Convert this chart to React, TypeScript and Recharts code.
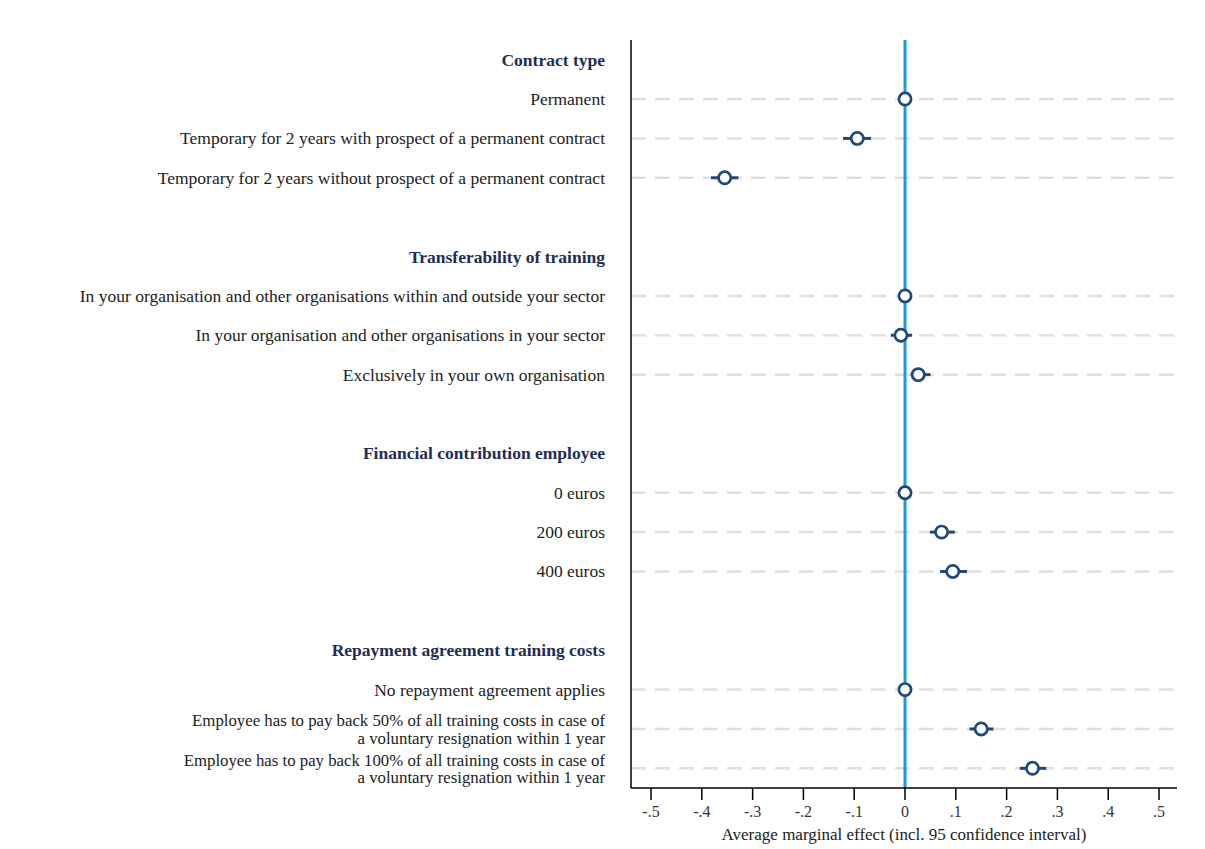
import { ScatterChart, Scatter, XAxis, YAxis, ErrorBar, ReferenceLine } from 'recharts'

const groups = [
  'Contract type',
  'Transferability of training',
  'Financial contribution employee',
  'Repayment agreement training costs',
]

const levels = [
  ['Permanent', 'Temporary for 2 years with prospect of a permanent contract', 'Temporary for 2 years without prospect of a permanent contract'],
  ['In your organisation and other organisations within and outside your sector', 'In your organisation and other organisations in your sector', 'Exclusively in your own organisation'],
  ['0 euros', '200 euros', '400 euros'],
  [
    'No repayment agreement applies',
    'Employee has to pay back 50% of all training costs in case of|a voluntary resignation within 1 year',
    'Employee has to pay back 100% of all training costs in case of|a voluntary resignation within 1 year',
  ],
]

const estimates = [
  [0, -0.094, -0.355],
  [0, -0.008, 0.026],
  [0, 0.072, 0.094],
  [0, 0.15, 0.251],
]
const lower = [
  [0, -0.122, -0.382],
  [0, -0.028, 0.011],
  [0, 0.049, 0.069],
  [0, 0.127, 0.226],
]
const upper = [
  [0, -0.067, -0.328],
  [0, 0.014, 0.05],
  [0, 0.098, 0.122],
  [0, 0.174, 0.278],
]

const xTicks = [-0.5, -0.4, -0.3, -0.2, -0.1, 0, 0.1, 0.2, 0.3, 0.4, 0.5]

interface Row {
  row: number
  label: string
  header: boolean
}

const rows: Row[] = []
const points: { row: number; x: number; err: [number, number] }[] = []
groups.forEach((g, gi) => {
  if (gi > 0) rows.push({ row: rows.length, label: '', header: false })
  rows.push({ row: rows.length, label: g, header: true })
  levels[gi].forEach((l, li) => {
    const r = rows.length
    rows.push({ row: r, label: l, header: false })
    const est = estimates[gi][li]
    points.push({ row: r, x: est, err: [est - lower[gi][li], upper[gi][li] - est] })
  })
})

const itemRows = points.map((p) => p.row)

const FONT = '"Liberation Serif", "Times New Roman", serif'
const NAVY = '#1d4a78'

function YTick(props: any) {
  const { x, y, payload } = props
  const r = rows[payload.value]
  if (!r || !r.label) return null
  const lines = r.label.split('|')
  const multi = lines.length > 1
  const lh = 17.5
  const start = y - ((lines.length - 1) * lh) / 2
  return (
    <text
      x={x}
      y={start}
      textAnchor="end"
      dominantBaseline="central"
      fontFamily={FONT}
      fontSize={multi ? 16.8 : 17.5}
      fontWeight={r.header ? 700 : 400}
      fill={r.header ? '#1f2d56' : '#222'}
    >
      {lines.map((ln, i) => (
        <tspan key={i} x={x} dy={i === 0 ? 0 : lh}>
          {ln}
        </tspan>
      ))}
    </text>
  )
}

function fmt(v: number) {
  if (Math.abs(v) < 1e-9) return '0'
  return v.toFixed(1).replace('0.', '.')
}

function Dot(props: any) {
  return <circle cx={props.cx} cy={props.cy} r={6.1} fill="#fff" stroke={NAVY} strokeWidth={2.7} />
}

export default function App() {
  return (
    <div style={{ position: 'absolute', left: 0, top: 0, background: '#fff' }}>
      <ScatterChart width={1205} height={849} margin={{ top: 40, right: 28, left: 0, bottom: 5 }}>
        <XAxis
          type="number"
          dataKey="x"
          domain={[-0.5394, 0.5354]}
          allowDataOverflow
          ticks={xTicks}
          interval={0}
          tickFormatter={fmt}
          tickSize={12}
          tickMargin={6}
          height={56}
          stroke="#000"
          axisLine={{ stroke: '#000', strokeWidth: 1.5 }}
          tickLine={{ stroke: '#000', strokeWidth: 1.5 }}
          tick={{ fill: '#333', fontSize: 16, fontFamily: FONT }}
          label={{ value: 'Average marginal effect (incl. 95 confidence interval)', position: 'insideBottom', offset: 4, fill: '#222', fontSize: 17, fontFamily: FONT }}
        />
        <YAxis
          type="number"
          dataKey="row"
          domain={[-0.5, rows.length - 0.5]}
          reversed
          ticks={rows.map((r) => r.row)}
          interval={0}
          width={631}
          tickSize={0}
          tickMargin={26}
          tickLine={false}
          axisLine={{ stroke: '#000', strokeWidth: 1.5 }}
          tick={<YTick />}
        />
        {itemRows.map((r) => (
          <ReferenceLine key={r} y={r} stroke="#e0e0e0" strokeWidth={2.5} strokeDasharray="15 9" />
        ))}
        <ReferenceLine x={0} stroke="#1a9cd8" strokeWidth={3} />
        <Scatter data={points} shape={<Dot />} isAnimationActive={false}>
          <ErrorBar dataKey="err" direction="x" width={0} stroke={NAVY} strokeWidth={3} />
        </Scatter>
      </ScatterChart>
    </div>
  )
}
